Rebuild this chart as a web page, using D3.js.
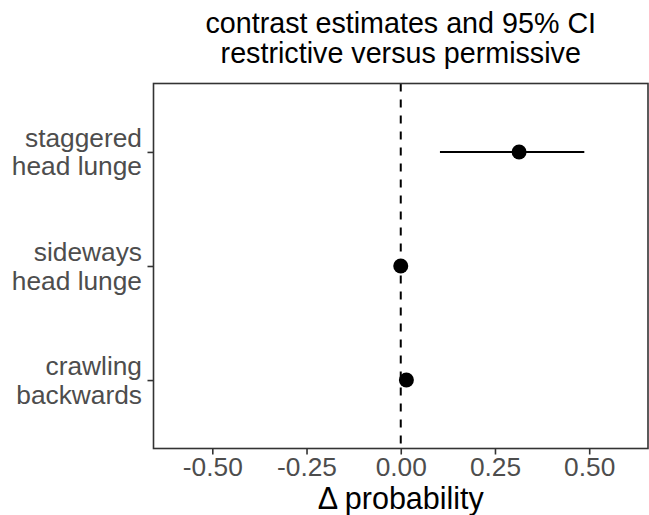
<!DOCTYPE html>
<html>
<head>
<meta charset="utf-8">
<script src="https://cdn.jsdelivr.net/npm/d3@7"></script>
<style>
	body { margin: 0; background: #fff; }
	text { font-family: "Liberation Sans", Arial, sans-serif; }
</style>
</head>
<body>
<div id="chart"></div>
<script>
// behaviours, top to bottom
var behaviours = [["staggered", "head lunge"], ["sideways", "head lunge"], ["crawling", "backwards"]];
var estimates = [0.314, 0.0, 0.015];
var lower = [0.104, -0.003, 0.012];
var upper = [0.487, 0.003, 0.018];
var xTicks = [-0.5, -0.25, 0, 0.25, 0.5];
var titleLines = ["contrast estimates and 95% CI", "restrictive versus permissive"];

(function() {
	var width = 649, height = 515;
	var margin = {top: 83.5, right: 1, bottom: 66.5, left: 153.5};
	var w = width - margin.left - margin.right,
		h = height - margin.top - margin.bottom;

	var svg = d3.select("#chart")
		.append("svg")
		.attr("width", width)
		.attr("height", height);

	var g = svg.append("g")
		.attr("transform", "translate(" + margin.left + "," + margin.top + ")");

	var x = d3.scaleLinear().domain([-0.656, 0.656]).range([0, w]);

	// discrete axis with ggplot-style 0.6 expansion
	var y = d3.scalePoint()
		.domain(d3.range(behaviours.length))
		.range([0, h])
		.padding(0.6);

	var fmt = d3.format(".2f");

	// x axis
	var xAxis = g.append("g")
		.attr("transform", "translate(0," + h + ")")
		.call(d3.axisBottom(x).tickValues(xTicks).tickSize(6).tickPadding(3)
			.tickFormat(function(d) { return d < 0 ? "-" + fmt(-d) : fmt(d); }));
	xAxis.select(".domain").remove();
	xAxis.selectAll("line").attr("stroke", "#333").attr("stroke-width", 1.6);
	xAxis.selectAll("text").attr("fill", "#4d4d4d").attr("font-size", 26.3)
		.attr("font-family", "Liberation Sans, Arial, sans-serif");

	// y axis
	var yAxis = g.append("g")
		.call(d3.axisLeft(y).tickSize(6).tickFormat(""));
	yAxis.select(".domain").remove();
	yAxis.selectAll("line").attr("stroke", "#333").attr("stroke-width", 1.6);

	var ylab = g.append("g").selectAll("text")
		.data(behaviours)
		.enter().append("text")
		.attr("text-anchor", "end")
		.attr("fill", "#4d4d4d")
		.attr("font-size", 26.3)
		.attr("x", -11.5)
		.attr("y", function(d, i) { return y(i); });
	ylab.append("tspan").attr("x", -11.5).attr("dy", -5).text(function(d) { return d[0]; });
	ylab.append("tspan").attr("x", -11.5).attr("dy", 28.5).text(function(d) { return d[1]; });

	// reference line at zero
	g.append("line")
		.attr("x1", x(0)).attr("x2", x(0))
		.attr("y1", 0).attr("y2", h)
		.attr("stroke", "#000")
		.attr("stroke-width", 2)
		.attr("stroke-dasharray", "8,8");

	// intervals
	g.selectAll(".ci")
		.data(estimates)
		.enter().append("line")
		.attr("class", "ci")
		.attr("x1", function(d, i) { return x(lower[i]); })
		.attr("x2", function(d, i) { return x(upper[i]); })
		.attr("y1", function(d, i) { return y(i); })
		.attr("y2", function(d, i) { return y(i); })
		.attr("stroke", "#000")
		.attr("stroke-width", 2);

	g.selectAll(".pt")
		.data(estimates)
		.enter().append("circle")
		.attr("class", "pt")
		.attr("cx", function(d) { return x(d); })
		.attr("cy", function(d, i) { return y(i); })
		.attr("r", 7.5)
		.attr("fill", "#000");

	// panel border
	g.append("rect")
		.attr("width", w).attr("height", h)
		.attr("fill", "none")
		.attr("stroke", "#333")
		.attr("stroke-width", 1.6);

	// titles
	svg.selectAll(".title")
		.data(titleLines)
		.enter().append("text")
		.attr("class", "title")
		.attr("text-anchor", "middle")
		.attr("x", margin.left + w / 2)
		.attr("y", function(d, i) { return 33 + i * 30; })
		.attr("font-size", 28.7)
		.attr("fill", "#000")
		.text(function(d) { return d; });

	svg.append("text")
		.attr("text-anchor", "middle")
		.attr("x", margin.left + w / 2)
		.attr("y", 509)
		.attr("font-size", 30.5)
		.attr("fill", "#000")
		.text("Δ probability");
})();
</script>
</body>
</html>
